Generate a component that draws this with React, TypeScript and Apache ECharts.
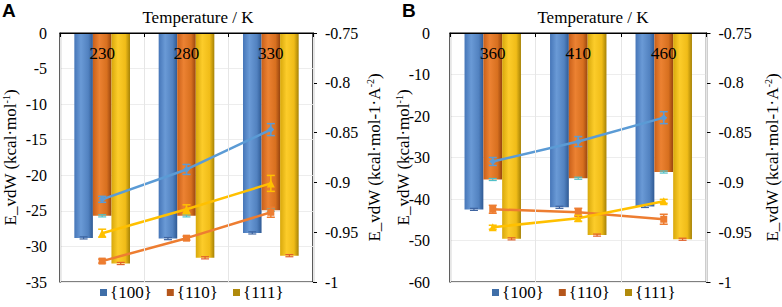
import React, { useEffect, useRef } from 'react';
import * as echarts from 'echarts';

const categoriesA = ['230', '280', '330'];
const categoriesB = ['360', '410', '460'];
const facets = ['{100}', '{110}', '{111}'];

// Bars (left axis, kcal/mol)
const barA100 = [-28.8, -28.9, -28.1];
const barA110 = [-25.7, -25.7, -24.9];
const barA111 = [-32.4, -31.6, -31.3];
const barB100 = [-42.5, -42.0, -41.8];
const barB110 = [-35.3, -35.0, -33.5];
const barB111 = [-49.6, -48.7, -49.7];
const barErrA = [0.15, 0.15, 0.15];
const barErrB = [0.25, 0.25, 0.25];

// Lines (right axis, kcal/mol/A^2)
const lineA100 = [-0.917, -0.887, -0.847];
const lineA110 = [-0.979, -0.956, -0.930];
const lineA111 = [-0.951, -0.927, -0.901];
const lineB100 = [-0.879, -0.859, -0.835];
const lineB110 = [-0.927, -0.930, -0.937];
const lineB111 = [-0.945, -0.936, -0.919];
const errA100 = [0.003, 0.005, 0.006];
const errA110 = [0.002, 0.002, 0.005];
const errA111 = [0.004, 0.0045, 0.008];
const errB100 = [0.004, 0.005, 0.006];
const errB110 = [0.004, 0.004, 0.005];
const errB111 = [0.002, 0.003, 0.002];

const SERIF = 'Liberation Serif';
const SANS = 'Liberation Sans';
const lineColors = ['#5B9BD5', '#ED7D31', '#FFC000'];
const legendColors = ['#3F6EA8', '#B5561B', '#B08A0C'];
const barErrColors = ['#3E64A0', '#4FC0C8', '#E0602A'];

const grad = (stops: [number, string][]) =>
  new echarts.graphic.LinearGradient(0, 0, 1, 0, stops.map(([offset, color]) => ({ offset, color })));

const barFills = [
  grad([[0, '#4676B8'], [0.35, '#6A9AD6'], [0.75, '#5282C0'], [1, '#2F5A94']]),
  grad([[0, '#C9601A'], [0.35, '#EC8232'], [0.75, '#D8701F'], [1, '#98450F']]),
  grad([[0, '#D8A80C'], [0.35, '#FCCC2A'], [0.75, '#F0BC18'], [1, '#A68206']]),
];

function barSeries(name: string, data: number[], k: number, axis: number) {
  return {
    type: 'bar',
    name,
    xAxisIndex: axis,
    yAxisIndex: axis * 2,
    data,
    barWidth: '22%',
    barGap: '0%',
    itemStyle: { color: barFills[k] },
    z: 2,
  };
}

function barErrSeries(vals: number[], errs: number[], k: number, axis: number) {
  return {
    type: 'custom',
    xAxisIndex: axis,
    yAxisIndex: axis * 2,
    silent: true,
    z: 3,
    data: vals.map((v, i) => [i, v, errs[i]]),
    renderItem: (_p: any, api: any) => {
      const x = api.value(0);
      const v = api.value(1);
      const e = api.value(2);
      const bw = api.size([1, 0])[0];
      const off = (k - 1) * bw * 0.22;
      const t = api.coord([x, v + e]);
      const b = api.coord([x, v - e]);
      const cx = t[0] + off;
      const w = 4;
      const st = { stroke: barErrColors[k], lineWidth: 1.2 };
      return {
        type: 'group',
        children: [
          { type: 'line', shape: { x1: cx, y1: t[1], x2: cx, y2: b[1] }, style: st },
          { type: 'line', shape: { x1: cx - w, y1: t[1], x2: cx + w, y2: t[1] }, style: st },
          { type: 'line', shape: { x1: cx - w, y1: b[1], x2: cx + w, y2: b[1] }, style: st },
        ],
      };
    },
  };
}

const symbols = ['diamond', 'rect', 'triangle'];
const symbolSizes = [7, 7, 8];

function lineSeries(name: string, data: number[], k: number, axis: number) {
  return {
    type: 'line',
    name,
    xAxisIndex: axis,
    yAxisIndex: axis * 2 + 1,
    data,
    symbol: symbols[k],
    symbolSize: symbolSizes[k],
    lineStyle: { color: lineColors[k], width: 2.5, type: 'solid' },
    itemStyle: { color: lineColors[k] },
    z: 5,
  };
}

function lineErrSeries(vals: number[], errs: number[], k: number, axis: number) {
  return {
    type: 'custom',
    xAxisIndex: axis,
    yAxisIndex: axis * 2 + 1,
    silent: true,
    z: 6,
    data: vals.map((v, i) => [i, v, errs[i]]),
    renderItem: (_p: any, api: any) => {
      const x = api.value(0);
      const v = api.value(1);
      const e = api.value(2);
      const t = api.coord([x, v + e]);
      const b = api.coord([x, v - e]);
      const w = 4;
      const st = { stroke: lineColors[k], lineWidth: 1.5 };
      return {
        type: 'group',
        children: [
          { type: 'line', shape: { x1: t[0], y1: t[1], x2: b[0], y2: b[1] }, style: st },
          { type: 'line', shape: { x1: t[0] - w, y1: t[1], x2: t[0] + w, y2: t[1] }, style: st },
          { type: 'line', shape: { x1: b[0] - w, y1: b[1], x2: b[0] + w, y2: b[1] }, style: st },
        ],
      };
    },
  };
}

function xAxis(data: string[], gridIndex: number) {
  return {
    type: 'category',
    gridIndex,
    position: 'top',
    data,
    z: 10,
    axisLine: { show: true, lineStyle: { color: '#000', width: 1.2 } },
    axisTick: { show: true, inside: true, length: 4, lineStyle: { color: '#000' } },
    axisLabel: { inside: true, margin: 12, fontSize: 17, fontFamily: SERIF, color: '#000' },
    splitLine: { show: true, lineStyle: { color: '#E6E6E6', width: 1 } },
  };
}

const nameRich = {
  n: { fontSize: 17, fontFamily: SERIF, color: '#000', lineHeight: 18 },
  s: { fontSize: 10, fontFamily: SERIF, color: '#000', verticalAlign: 'top', lineHeight: 10 },
};

function leftAxis(gridIndex: number, min: number, interval: number, margin: number, nameGap: number) {
  return {
    type: 'value',
    gridIndex,
    position: 'left',
    min,
    max: 0,
    interval,
    axisLine: { show: true, onZero: false, lineStyle: { color: '#333', width: 1.2 } },
    axisTick: { show: false },
    axisLabel: { margin, fontSize: 16, fontFamily: SERIF, color: '#000' },
    splitLine: { show: true, lineStyle: { color: '#EDEDED', width: 1 } },
    name: '{n|E_vdW (kcal·mol}{s|-1}{n|)}',
    nameLocation: 'middle',
    nameRotate: 90,
    nameGap,
    nameMoveOverlap: false,
    nameTextStyle: { fontFamily: SERIF, fontSize: 17, rich: nameRich },
  };
}

function rightAxis(gridIndex: number, nameGap: number) {
  return {
    type: 'value',
    gridIndex,
    position: 'right',
    min: -1,
    max: -0.75,
    interval: 0.05,
    axisLine: { show: true, onZero: false, lineStyle: { color: '#000', width: 1.2 } },
    axisTick: { show: true, length: 4, lineStyle: { color: '#000' } },
    axisLabel: {
      margin: 12, fontSize: 16, fontFamily: SERIF, color: '#000',
      formatter: (v: number) => String(parseFloat(v.toFixed(2))),
    },
    splitLine: { show: false },
    name: '{n|E_vdW (kcal·mol-1·A}{s|-2}{n|)}',
    nameLocation: 'middle',
    nameRotate: 90,
    nameGap,
    nameMoveOverlap: false,
    nameTextStyle: { fontFamily: SERIF, fontSize: 17, rich: nameRich },
  };
}

function legend(left: number) {
  return {
    left,
    top: 284,
    padding: 0,
    icon: 'rect',
    itemWidth: 7,
    itemHeight: 7,
    itemGap: 15,
    textStyle: { fontSize: 17, fontFamily: SERIF, color: '#000', padding: [0, 0, 0, -2] },
    data: facets.map((f, i) => ({ name: f, itemStyle: { color: legendColors[i] } })),
    selectedMode: false,
  };
}

export default function App() {
  const ref = useRef<HTMLDivElement>(null);
  useEffect(() => {
    if (!ref.current) return;
    const chart = echarts.init(ref.current, undefined, { renderer: 'svg' });
    const barsA = [barA100, barA110, barA111];
    const barsB = [barB100, barB110, barB111];
    const linesA = [lineA100, lineA110, lineA111];
    const linesB = [lineB100, lineB110, lineB111];
    const errsA = [errA100, errA110, errA111];
    const errsB = [errB100, errB110, errB111];
    const series: any[] = [];
    facets.forEach((f, k) => {
      series.push(barSeries(f, barsA[k], k, 0));
      series.push(barSeries(f, barsB[k], k, 1));
    });
    facets.forEach((_f, k) => {
      series.push(barErrSeries(barsA[k], barErrA, k, 0));
      series.push(barErrSeries(barsB[k], barErrB, k, 1));
    });
    facets.forEach((f, k) => {
      series.push(lineSeries('A line ' + f, linesA[k], k, 0));
      series.push(lineSeries('B line ' + f, linesB[k], k, 1));
      series.push(lineErrSeries(linesA[k], errsA[k], k, 0));
      series.push(lineErrSeries(linesB[k], errsB[k], k, 1));
    });
    chart.setOption({
      animation: false,
      backgroundColor: '#fff',
      textStyle: { fontFamily: SERIF },
      grid: [
        { left: 58, top: 33, width: 255, height: 249, show: true, borderColor: '#000', borderWidth: 1.2, containLabel: false },
        { left: 450, top: 33, width: 258, height: 249, show: true, borderColor: '#000', borderWidth: 1.2, containLabel: false },
      ],
      xAxis: [xAxis(categoriesA, 0), xAxis(categoriesB, 1)],
      yAxis: [
        leftAxis(0, -35, 5, 13, 41),
        rightAxis(0, 52),
        leftAxis(1, -60, 10, 20, 38),
        rightAxis(1, 57),
      ],
      legend: [legend(100), legend(492)],
      graphic: [
        { type: 'text', left: 2, top: 1, style: { text: 'A', fontSize: 19, fontWeight: 'bold', fontFamily: SANS, fill: '#000' } },
        { type: 'text', left: 402, top: 1, style: { text: 'B', fontSize: 19, fontWeight: 'bold', fontFamily: SANS, fill: '#000' } },
        { type: 'text', x: 198, y: 17, style: { text: 'Temperature / K', fontSize: 17, fontFamily: SERIF, fill: '#000', align: 'center', verticalAlign: 'middle' } },
        { type: 'text', x: 593, y: 17, style: { text: 'Temperature / K', fontSize: 17, fontFamily: SERIF, fill: '#000', align: 'center', verticalAlign: 'middle' } },
      ],
      series,
    });
    return () => chart.dispose();
  }, []);
  return <div ref={ref} style={{ position: 'fixed', left: 0, top: 0, width: 782, height: 307 }} />;
}
